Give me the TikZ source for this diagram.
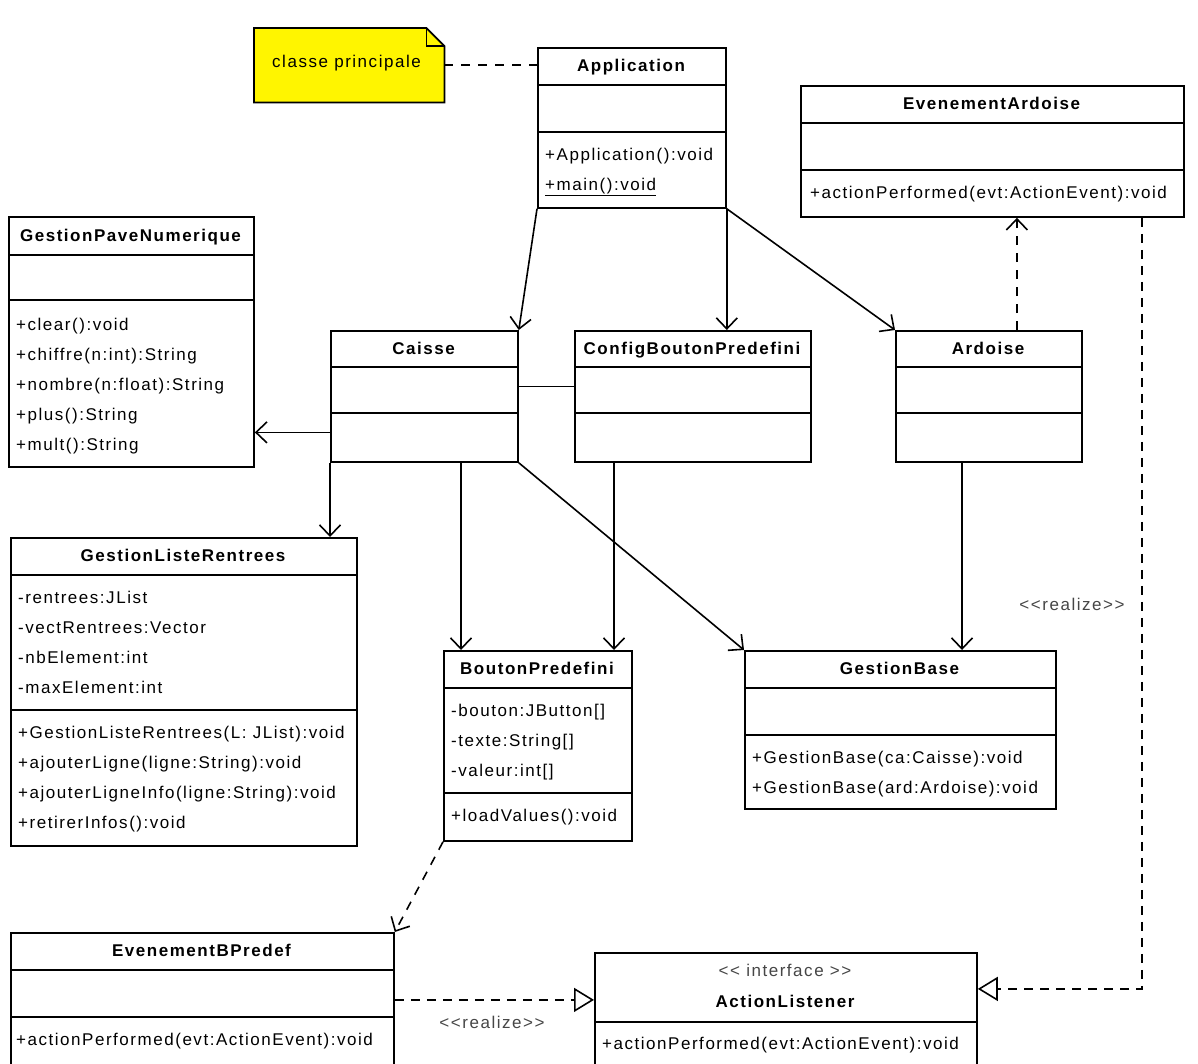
\documentclass[tikz,border=0pt]{standalone}
\usepackage{fontspec}
\setmainfont{Liberation Sans}[LetterSpace=9]
\usetikzlibrary{arrows.meta,calc}
\definecolor{noteyellow}{RGB}{255,245,0}
\definecolor{lblgray}{RGB}{70,70,70}
\newcommand{\umlfont}{\fontsize{17}{20}\selectfont}
\tikzset{
  cls/.style={draw, fill=white, line width=1.8pt, inner sep=0pt, anchor=north west},
  ttl/.style={font=\umlfont\bfseries, inner sep=0pt, text height=13pt, text depth=3pt},
  mem/.style={anchor=west, inner sep=0pt, text height=13pt, text depth=3pt},
  div/.style={line width=1.8pt},
  assoc/.style={line width=1.6pt, -{Straight Barb[length=11pt,width=21pt,line width=1.6pt]}},
  dep/.style={assoc, dash pattern=on 9pt off 8pt},
  real/.style={line width=1.6pt, dash pattern=on 9pt off 7pt, -{Triangle[open,length=20pt,width=24pt,fill=white,line width=1.6pt]}},
  lbl/.style={inner sep=0pt, text=lblgray}
}
\begin{document}
\begin{tikzpicture}[x=1pt,y=-1pt,font=\umlfont]
\useasboundingbox (0,0) rectangle (1198,1063);

% note
\node[inner sep=0pt, minimum width=190pt, minimum height=74pt, anchor=north west] (note) at (254,28) {};
\draw[line width=1.8pt, fill=noteyellow] (note.north west) -- ([xshift=-18pt]note.north east) -- ([yshift=-18pt]note.north east) -- (note.south east) -- (note.south west) -- cycle;
\draw[line width=1.6pt] ([xshift=-18pt]note.north east) -- ([xshift=-18pt,yshift=-18pt]note.north east) -- ([yshift=-18pt]note.north east);
\node[mem] (notetxt) at (272,62) {classe principale};

% Application
\node[cls, minimum width=188pt, minimum height=160pt] (app) at (537,47) {};
\draw[div] (537,85) -- (725,85); \draw[div] (537,132) -- (725,132);
\node[ttl] (appt) at (631,66) {Application};
\node[mem] (appm1) at (545,155) {+Application():void};
\node[mem] (appm2) at (545,185) {\underline{+main():void}};

% EvenementArdoise
\node[cls, minimum width=383pt, minimum height=131pt] (evard) at (800,85) {};
\draw[div] (800,123) -- (1183,123); \draw[div] (800,170) -- (1183,170);
\node[ttl] (evardt) at (991.5,104) {EvenementArdoise};
\node[mem] (evardm) at (810,193) {+actionPerformed(evt:ActionEvent):void};

% GestionPaveNumerique
\node[cls, minimum width=245pt, minimum height=250pt] (gpn) at (8,216) {};
\draw[div] (8,255) -- (253,255); \draw[div] (8,300) -- (253,300);
\node[ttl] (gpnt) at (130.5,236) {GestionPaveNumerique};
\node[mem] (gpn1) at (16,325) {+clear():void};
\node[mem] (gpn2) at (16,355) {+chiffre(n:int):String};
\node[mem] (gpn3) at (16,385) {+nombre(n:float):String};
\node[mem] (gpn4) at (16,415) {+plus():String};
\node[mem] (gpn5) at (16,445) {+mult():String};

% Caisse
\node[cls, minimum width=187pt, minimum height=131pt] (caisse) at (330,330) {};
\draw[div] (330,367) -- (517,367); \draw[div] (330,413) -- (517,413);
\node[ttl] (caisset) at (423.5,349) {Caisse};

% ConfigBoutonPredefini
\node[cls, minimum width=236pt, minimum height=131pt] (cfg) at (574,330) {};
\draw[div] (574,367) -- (810,367); \draw[div] (574,413) -- (810,413);
\node[ttl] (cfgt) at (692,349) {ConfigBoutonPredefini};

% Ardoise
\node[cls, minimum width=186pt, minimum height=131pt] (ard) at (895,330) {};
\draw[div] (895,367) -- (1081,367); \draw[div] (895,413) -- (1081,413);
\node[ttl] (ardt) at (988,349) {Ardoise};

% GestionListeRentrees
\node[cls, minimum width=346pt, minimum height=308pt] (glr) at (10,537) {};
\draw[div] (10,575) -- (356,575); \draw[div] (10,710) -- (356,710);
\node[ttl] (glrt) at (183,556) {GestionListeRentrees};
\node[mem] (glra1) at (18,598) {-rentrees:JList};
\node[mem] (glra2) at (18,628) {-vectRentrees:Vector};
\node[mem] (glra3) at (18,658) {-nbElement:int};
\node[mem] (glra4) at (18,688) {-maxElement:int};
\node[mem] (glrm1) at (18,733) {+GestionListeRentrees(L: JList):void};
\node[mem] (glrm2) at (18,763) {+ajouterLigne(ligne:String):void};
\node[mem] (glrm3) at (18,793) {+ajouterLigneInfo(ligne:String):void};
\node[mem] (glrm4) at (18,823) {+retirerInfos():void};

% BoutonPredefini
\node[cls, minimum width=188pt, minimum height=190pt] (bp) at (443,650) {};
\draw[div] (443,688) -- (631,688); \draw[div] (443,793) -- (631,793);
\node[ttl] (bpt) at (537,669) {BoutonPredefini};
\node[mem] (bpa1) at (451,711) {-bouton:JButton[]};
\node[mem] (bpa2) at (451,741) {-texte:String[]};
\node[mem] (bpa3) at (451,771) {-valeur:int[]};
\node[mem] (bpm1) at (451,816) {+loadValues():void};

% GestionBase
\node[cls, minimum width=311pt, minimum height=158pt] (gb) at (744,650) {};
\draw[div] (744,688) -- (1055,688); \draw[div] (744,735) -- (1055,735);
\node[ttl] (gbt) at (899.5,669) {GestionBase};
\node[mem] (gbm1) at (752,758) {+GestionBase(ca:Caisse):void};
\node[mem] (gbm2) at (752,788) {+GestionBase(ard:Ardoise):void};

% EvenementBPredef
\node[cls, minimum width=383pt, minimum height=134pt] (ebp) at (10,932) {};
\draw[div] (10,970) -- (393,970); \draw[div] (10,1017) -- (393,1017);
\node[ttl] (ebpt) at (201.5,951) {EvenementBPredef};
\node[mem] (ebpm) at (16,1040) {+actionPerformed(evt:ActionEvent):void};

% ActionListener
\node[cls, minimum width=382pt, minimum height=114pt] (al) at (594,952) {};
\draw[div] (594,1022) -- (976,1022);
\node[lbl, text height=13pt, text depth=3pt] (alst) at (785,971) {<{}< interface >{}>};
\node[ttl] (alt) at (785,1002) {ActionListener};
\node[mem] (alm) at (602,1044) {+actionPerformed(evt:ActionEvent):void};

% connectors
\draw[line width=1.6pt, dash pattern=on 9pt off 8pt] (note.east) -- (note.east -| app.west);
\draw[assoc] (app.south west) -- (caisse.north east);
\draw[assoc] (app.south east) -- (app.south east |- cfg.north);
\draw[assoc] (app.south east) -- (ard.north west);
\draw[dep] ([xshift=28pt]ard.north) -- ([xshift=28pt]ard.north |- evard.south);
\draw[real] ([xshift=-43pt]evard.south east) |- ([yshift=21pt]al.east);
\node[lbl] (real1) at (1072,604) {<{}<realize>{}>};
\draw[line width=1.6pt] ([yshift=10pt]caisse.east) -- ([yshift=10pt]caisse.east -| cfg.west);
\draw[assoc] ([yshift=-36pt]caisse.west) -- ([yshift=-36pt]caisse.west -| gpn.east);
\draw[assoc] (caisse.south west) -- (caisse.south west |- glr.north);
\draw[assoc] ([xshift=131pt]caisse.south west) -- ([xshift=131pt]caisse.south west |- bp.north);
\draw[assoc] (caisse.south east) -- (gb.north west);
\draw[assoc] ([xshift=40pt]cfg.south west) -- ([xshift=40pt]cfg.south west |- bp.north);
\draw[assoc] ([xshift=67pt]ard.south west) -- ([xshift=67pt]ard.south west |- gb.north);
\draw[dep] (bp.south west) -- (ebp.north east);
\draw[real] (ebp.east) -- (ebp.east -| al.west);
\node[lbl] (real2) at (492,1022) {<{}<realize>{}>};
\end{tikzpicture}
\end{document}
